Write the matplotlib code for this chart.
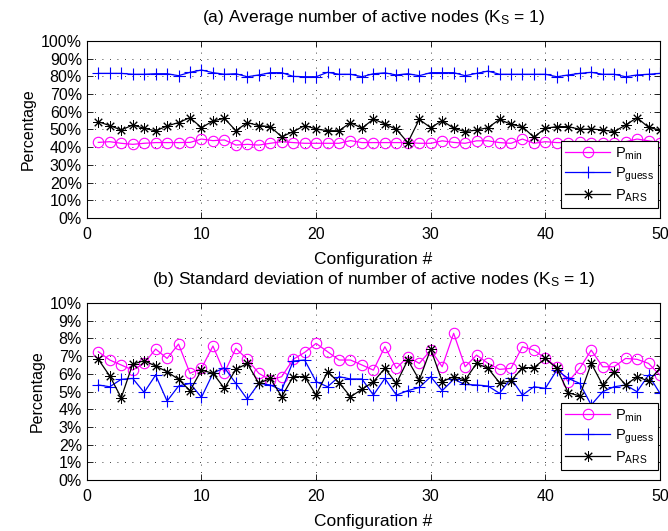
import matplotlib
matplotlib.use("Agg")
import matplotlib.pyplot as plt
import numpy as np

plt.rcParams['font.family'] = ['Liberation Sans', 'DejaVu Sans']
plt.rcParams['mathtext.default'] = 'regular'

config = np.arange(1, 51)

# (a) average number of active nodes, in percent
avg_min = [42.7, 43.1, 42.2, 41.6, 42.2, 42.6, 42.6, 42.6, 42.7, 44.6,
           43.7, 44.1, 41.2, 41.6, 41.2, 42.2, 43.1, 42.6, 42.2, 42.2,
           42.2, 42.2, 43.7, 42.6, 42.6, 42.6, 42.6, 42.6, 42.2, 42.2,
           43.6, 42.7, 42.2, 43.6, 43.6, 42.6, 42.2, 44.6, 42.2, 43.1,
           42.6, 42.6, 43.1, 42.6, 42.6, 42.2, 43.1, 44.6, 43.6, 42.6]
avg_guess = [81.7, 81.7, 81.7, 81.2, 81.2, 81.5, 81.5, 80.4, 82.3, 83.6,
             82.1, 81.2, 81.5, 79.8, 80.8, 82.1, 82.1, 80.0, 79.8, 79.8,
             82.3, 81.2, 81.2, 79.8, 81.5, 82.0, 80.8, 81.5, 80.4, 82.1,
             82.1, 82.1, 80.4, 81.7, 83.0, 81.2, 81.2, 81.2, 81.2, 81.2,
             79.8, 80.8, 81.7, 82.3, 81.2, 81.2, 79.8, 80.8, 81.2, 81.7]
avg_ars = [54.4, 52.2, 49.7, 52.5, 50.7, 49.2, 52.0, 53.9, 56.7, 51.0,
           54.8, 56.3, 49.3, 53.9, 52.2, 51.6, 45.9, 48.8, 52.2, 50.3,
           49.3, 49.3, 53.9, 50.7, 55.9, 53.1, 50.1, 42.6, 55.7, 51.0,
           55.0, 50.7, 48.8, 49.7, 51.0, 55.7, 52.9, 51.6, 45.6, 50.7,
           51.6, 51.6, 50.1, 50.3, 49.7, 48.8, 52.5, 56.7, 51.2, 49.7]

# (b) standard deviation of number of active nodes, in percent
std_min = [7.25, 6.78, 6.50, 6.21, 6.59, 7.40, 6.87, 7.68, 6.03, 6.31,
           7.57, 6.06, 7.44, 6.82, 6.03, 5.65, 5.84, 6.82, 7.21, 7.72,
           7.25, 6.78, 6.78, 6.50, 6.21, 7.53, 6.31, 6.97, 6.59, 7.34,
           6.40, 8.29, 6.40, 7.06, 6.59, 6.25, 6.31, 7.53, 7.34, 6.87,
           6.40, 5.56, 6.31, 7.34, 6.40, 6.40, 6.87, 6.82, 6.59, 5.93]
std_guess = [5.37, 5.27, 5.69, 5.74, 4.95, 5.93, 4.46, 5.31, 5.46, 4.67,
             6.03, 6.35, 5.46, 4.56, 5.46, 5.37, 5.08, 6.72, 6.78, 5.56,
             5.27, 5.84, 5.71, 5.71, 4.80, 5.74, 4.80, 5.05, 5.23, 5.84,
             5.05, 5.69, 5.40, 5.37, 5.31, 4.90, 5.74, 4.80, 5.27, 5.18,
             6.21, 5.74, 5.46, 4.24, 4.99, 5.27, 5.37, 4.99, 5.93, 4.90]
std_ars = [6.82, 5.88, 4.65, 6.55, 6.74, 6.44, 6.12, 5.69, 5.05, 6.21,
           6.03, 5.18, 6.25, 6.59, 5.46, 5.74, 4.71, 5.84, 5.84, 4.80,
           6.12, 5.50, 4.71, 5.12, 5.56, 6.31, 5.46, 6.78, 5.65, 7.40,
           5.56, 5.84, 5.65, 6.59, 6.31, 5.50, 5.59, 6.35, 6.35, 6.87,
           6.31, 4.93, 4.75, 6.59, 5.37, 6.12, 5.37, 5.84, 5.59, 6.31]

labels = ['$P_{min}$', '$P_{guess}$', '$P_{ARS}$']
titles = ['(a) Average number of active nodes ($K_S$ = 1)',
          '(b) Standard deviation of number of active nodes ($K_S$ = 1)']


def draw_panel(ax, ys, ymax, ystep, title):
    # magenta circles, blue plus signs, black 8-spoke asterisks
    styles = [dict(color='#ff00ff', marker='o', ms=7.5, mfc='none', mew=0.8),
              dict(color='#0000ff', marker='+', ms=8, mew=0.8),
              dict(color='black', marker=(8, 2, 0), ms=7.5, mew=0.7)]
    for y, st, lab in zip(ys, styles, labels):
        ax.plot(config, y, lw=0.9, label=lab, **st)

    ax.set_xlim(0, 50)
    ax.set_ylim(0, ymax)
    ax.set_xticks(np.arange(0, 51, 10))
    yt = np.arange(0, ymax + ystep / 2, ystep)
    ax.set_yticks(yt)
    ax.set_yticklabels(['%d%%' % round(v) for v in yt])
    ax.tick_params(direction='in', length=4, width=0.6, labelsize=11.5,
                   top=True, right=True)
    ax.tick_params(axis='x', pad=6.5)
    ax.tick_params(axis='y', pad=3.5)
    ax.grid(True, color='black', lw=0.6, linestyle=(0, (1, 8)))
    for s in ax.spines.values():
        s.set_linewidth(0.8)
    ax.set_xlabel('Configuration #', fontsize=12.5, labelpad=7)
    ax.set_ylabel('Percentage', fontsize=11.5, labelpad=4)
    ax.set_title(title, fontsize=12.5, pad=14)

    leg = ax.legend(loc='lower right', bbox_to_anchor=(0.9965, 0.0565),
                    borderaxespad=0, fontsize=10.5, fancybox=False,
                    framealpha=1, edgecolor='black', handlelength=3.1,
                    handletextpad=0.3, labelspacing=0.25, borderpad=0.3)
    leg.get_frame().set_linewidth(0.8)


def main():
    fig = plt.figure(figsize=(6.68, 5.31), dpi=100)
    ax1 = fig.add_axes([0.130, 0.5895, 0.858, 0.3333])
    ax2 = fig.add_axes([0.130, 0.0960, 0.858, 0.3333])

    draw_panel(ax1, [avg_min, avg_guess, avg_ars], 100, 10, titles[0])
    draw_panel(ax2, [std_min, std_guess, std_ars], 10, 1, titles[1])

    fig.savefig('out.png', dpi=100)


if __name__ == "__main__":
    main()
